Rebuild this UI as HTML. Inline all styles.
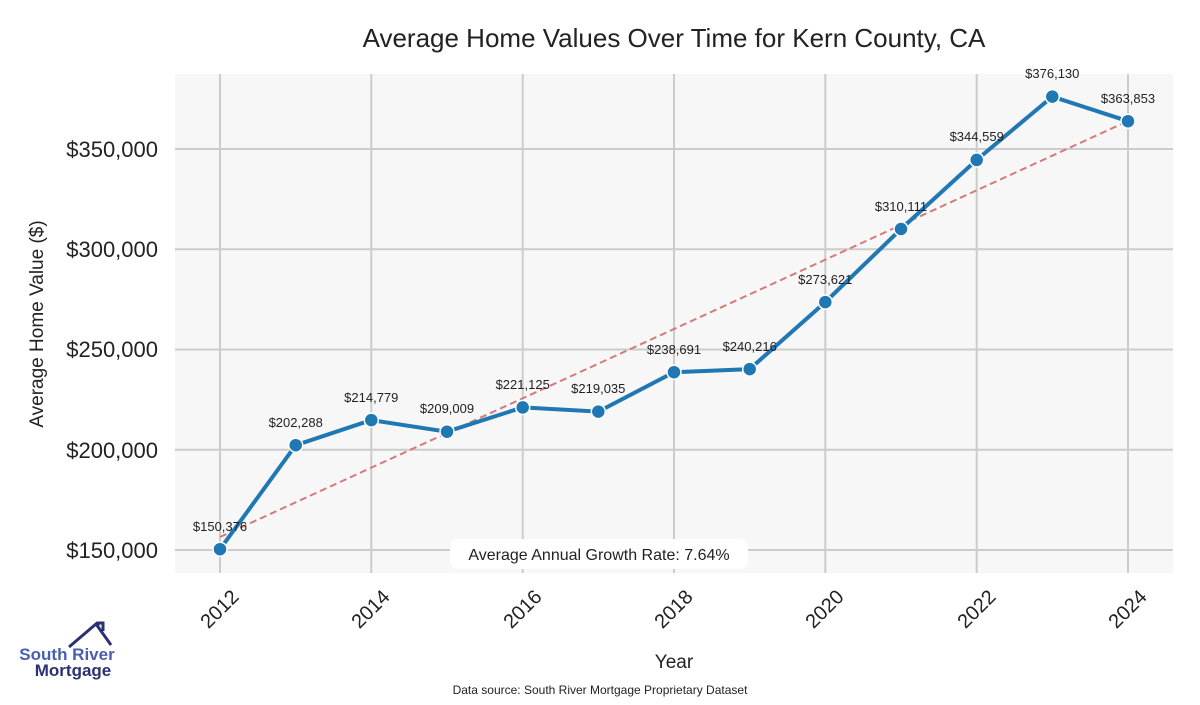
<!DOCTYPE html>
<html><head><meta charset="utf-8"><style>
body{margin:0;background:#fff;width:1200px;height:700px;overflow:hidden}
text{font-family:"Liberation Sans",sans-serif}
</style></head><body>
<svg width="1200" height="700" xmlns="http://www.w3.org/2000/svg">
<text x="674" y="47" font-size="26" text-anchor="middle" fill="#222">Average Home Values Over Time for Kern County, CA</text>
<rect x="175" y="74" width="998" height="499" fill="#f7f7f7"/>
<g stroke="#cccccc" stroke-width="2">
<line x1="175" x2="1173" y1="149" y2="149"/><line x1="175" x2="1173" y1="249.3" y2="249.3"/><line x1="175" x2="1173" y1="349.5" y2="349.5"/><line x1="175" x2="1173" y1="449.8" y2="449.8"/><line x1="175" x2="1173" y1="550" y2="550"/>
<line y1="74" y2="573" x1="220" x2="220"/><line y1="74" y2="573" x1="371.3" x2="371.3"/><line y1="74" y2="573" x1="522.7" x2="522.7"/><line y1="74" y2="573" x1="674" x2="674"/><line y1="74" y2="573" x1="825.3" x2="825.3"/><line y1="74" y2="573" x1="976.7" x2="976.7"/><line y1="74" y2="573" x1="1128" x2="1128"/>
</g>
<g font-size="22" fill="#222" text-anchor="end">
<text x="158" y="157">$350,000</text><text x="158" y="257">$300,000</text><text x="158" y="357">$250,000</text><text x="158" y="458">$200,000</text><text x="158" y="558">$150,000</text>
</g>
<text transform="translate(43,324) rotate(-90)" font-size="19" fill="#222" text-anchor="middle">Average Home Value ($)</text>
<g font-size="20" fill="#222" text-anchor="end">
<text transform="translate(240,598) rotate(-45)">2012</text><text transform="translate(391,598) rotate(-45)">2014</text><text transform="translate(543,598) rotate(-45)">2016</text><text transform="translate(694,598) rotate(-45)">2018</text><text transform="translate(845,598) rotate(-45)">2020</text><text transform="translate(997,598) rotate(-45)">2022</text><text transform="translate(1148,598) rotate(-45)">2024</text>
</g>
<text x="674" y="668" font-size="19" fill="#222" text-anchor="middle">Year</text>
<line x1="220" y1="537" x2="1128" y2="121" stroke="#d47a7a" stroke-width="2" stroke-dasharray="7,4"/>
<polyline fill="none" stroke="#1f77b4" stroke-width="4" points="220,549.2 295.7,445.2 371.3,420.1 447,431.7 522.7,407.4 598.3,411.6 674,372.2 749.7,369.1 825.3,302.1 901,229 976.7,159.9 1052.3,96.6 1128,121.2"/>
<g fill="#1f77b4" stroke="#fff" stroke-width="1.5">
<circle cx="220" cy="549.2" r="7"/><circle cx="295.7" cy="445.2" r="7"/><circle cx="371.3" cy="420.1" r="7"/><circle cx="447" cy="431.7" r="7"/><circle cx="522.7" cy="407.4" r="7"/><circle cx="598.3" cy="411.6" r="7"/><circle cx="674" cy="372.2" r="7"/><circle cx="749.7" cy="369.1" r="7"/><circle cx="825.3" cy="302.1" r="7"/><circle cx="901" cy="229" r="7"/><circle cx="976.7" cy="159.9" r="7"/><circle cx="1052.3" cy="96.6" r="7"/><circle cx="1128" cy="121.2" r="7"/>
</g>
<g font-size="13" fill="#222" text-anchor="middle">
<text x="220" y="531">$150,376</text><text x="295.7" y="427">$202,288</text><text x="371.3" y="402">$214,779</text><text x="447" y="413">$209,009</text><text x="522.7" y="389">$221,125</text><text x="598.3" y="393">$219,035</text><text x="674" y="354">$238,691</text><text x="749.7" y="351">$240,216</text><text x="825.3" y="284">$273,621</text><text x="901" y="211">$310,111</text><text x="976.7" y="141">$344,559</text><text x="1052.3" y="78">$376,130</text><text x="1128" y="103">$363,853</text>
</g>
<rect x="450" y="539" width="298" height="30" rx="8" fill="#fff"/>
<text x="599" y="560" font-size="16" fill="#222" text-anchor="middle">Average Annual Growth Rate: 7.64%</text>
<text x="600" y="694" font-size="12" fill="#222" text-anchor="middle">Data source: South River Mortgage Proprietary Dataset</text>
<polyline points="69,647 96,624 111,645" fill="none" stroke="#2b3270" stroke-width="3"/>
<polyline points="98,626 98,623 103,623 103,631" fill="none" stroke="#2b3270" stroke-width="3"/>
<text x="67" y="660" font-size="17" font-weight="bold" fill="#4a5eb0" text-anchor="middle">South River</text>
<text x="73" y="676" font-size="17" font-weight="bold" fill="#2b3270" text-anchor="middle">Mortgage</text>
</svg>
</body></html>
